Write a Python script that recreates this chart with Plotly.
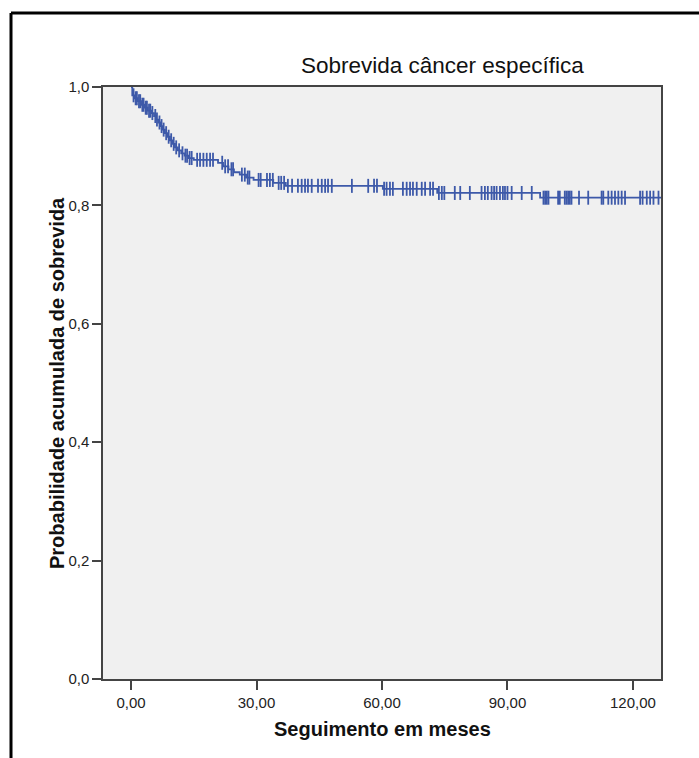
import numpy as np
import plotly.graph_objects as go

# Kaplan-Meier step data (event times in months, survival after event)
event_times = [0.3, 0.9, 1.6, 2.4, 3.2, 4.0, 4.8, 5.5, 6.0, 6.5, 7.0, 7.5, 8.1, 8.7,
               9.3, 9.9, 10.5, 11.2, 12.0, 12.8, 13.7, 15.0, 20.8, 22.0, 23.3, 24.6,
               26.0, 27.5, 29.3, 34.0, 37.0, 60.2, 73.2, 97.8]
survival = [0.986, 0.981, 0.976, 0.970, 0.965, 0.960, 0.956, 0.951, 0.945, 0.940,
            0.934, 0.928, 0.922, 0.916, 0.910, 0.904, 0.898, 0.893, 0.888, 0.884,
            0.880, 0.877, 0.872, 0.866, 0.861, 0.856, 0.852, 0.847, 0.843, 0.838,
            0.833, 0.828, 0.821, 0.813]
followup_end = 130.0

# censored observations (months)
censor_times = [0.6, 1.1, 1.4, 1.9, 2.2, 2.7, 3.0, 3.5, 3.8, 4.3, 4.6, 5.1, 5.8, 6.2,
                6.8, 7.3, 7.8, 8.4, 9.0, 9.6, 10.2, 10.8, 11.5, 12.3, 13.0, 13.4,
                14.0, 14.5, 15.8, 16.5, 17.3, 18.1, 18.9, 19.6, 21.8, 22.5, 23.2,
                24.0, 24.4, 26.5, 27.2, 27.9, 28.3, 30.5, 31.0, 32.5, 33.2, 33.9,
                35.3, 35.9, 36.6, 37.5, 38.5, 39.9, 40.8, 41.6, 42.3, 43.2, 44.7,
                45.6, 46.4, 47.1, 48.0, 52.8, 56.7, 58.1, 58.8, 60.5, 61.1, 61.9,
                62.6, 65.0, 65.9, 66.7, 67.4, 68.3, 69.5, 70.3, 71.5, 72.2, 73.6,
                74.3, 74.9, 77.4, 78.7, 81.0, 83.8, 84.6, 85.3, 86.2, 86.8, 87.4,
                88.2, 88.9, 89.4, 90.0, 91.0, 93.4, 95.8, 98.6, 99.0, 99.4, 99.8,
                102.1, 102.5, 103.7, 104.1, 104.5, 104.9, 105.3, 107.1, 109.3,
                112.5, 112.9, 114.1, 114.9, 115.7, 116.5, 117.3, 118.1, 121.7,
                122.3, 123.3, 124.1, 124.9, 126.1]

x_ticks = [0, 30, 60, 90, 120]
x_ticklabels = ["0,00", "30,00", "60,00", "90,00", "120,00"]
y_ticks = [0.0, 0.2, 0.4, 0.6, 0.8, 1.0]
y_ticklabels = ["0,0", "0,2", "0,4", "0,6", "0,8", "1,0"]

title = "Sobrevida câncer específica"
x_title = "Seguimento em meses"
y_title = "Probabilidade acumulada de sobrevida"

BLUE = "#3D59A9"
FONT = "Liberation Sans, Arial, sans-serif"

line_x = [0.0] + event_times + [followup_end]
line_y = [1.0] + survival + [survival[-1]]

# survival level at each censoring time
et = np.array(event_times)
sv = np.array(survival)
idx = np.searchsorted(et, np.array(censor_times), side="right") - 1
censor_y = np.where(idx >= 0, sv[np.clip(idx, 0, None)], 1.0)

fig = go.Figure()
fig.add_trace(go.Scatter(x=line_x, y=line_y, mode="lines", line_shape="hv",
                         line=dict(color=BLUE, width=1.8), hoverinfo="skip",
                         showlegend=False))
fig.add_trace(go.Scatter(x=censor_times, y=censor_y, mode="markers",
                         marker=dict(symbol="line-ns", size=10,
                                     line=dict(color=BLUE, width=1.8)),
                         showlegend=False))

L, R, T, B = 103, 661, 87, 679
W, H = 699, 758
pw, ph = R - L, B - T


def px(xp):
    return (xp - L) / pw


def py(yp):
    return (B - yp) / ph


axis_common = dict(showline=True, linecolor="#444444", linewidth=1.5, mirror=True,
                   showgrid=False, zeroline=False, ticks="outside",
                   tickcolor="#444444", tickwidth=1.5,
                   tickfont=dict(family=FONT, size=15, color="#222222"))

fig.update_xaxes(range=[-6.7, 126.7], tickvals=x_ticks, ticktext=x_ticklabels,
                 ticklen=9, **axis_common)
fig.update_yaxes(range=[0, 1], tickvals=y_ticks, ticktext=y_ticklabels,
                 ticklen=9, **axis_common)

fig.update_layout(
    width=W, height=H,
    margin=dict(l=L, r=W - R, t=T, b=H - B),
    paper_bgcolor="white", plot_bgcolor="#F0F0F0",
    font=dict(family=FONT),
    annotations=[
        dict(text=title, x=px(442), y=py(65), xref="paper", yref="paper",
             showarrow=False, xanchor="center", yanchor="middle",
             font=dict(family=FONT, size=22.5, color="#111111")),
        dict(text="<b>" + x_title + "</b>", x=px(382), y=py(729), xref="paper",
             yref="paper", showarrow=False, xanchor="center", yanchor="middle",
             font=dict(family=FONT, size=20, color="#111111")),
        dict(text="<b>" + y_title + "</b>", x=px(57), y=py(383), xref="paper",
             yref="paper", showarrow=False, xanchor="center", yanchor="middle",
             textangle=-90, font=dict(family=FONT, size=20, color="#111111")),
    ],
    shapes=[
        dict(type="line", xref="paper", yref="paper", x0=px(11), y0=py(13),
             x1=px(760), y1=py(13), line=dict(color="black", width=3)),
        dict(type="line", xref="paper", yref="paper", x0=px(11), y0=py(13),
             x1=px(11), y1=py(800), line=dict(color="black", width=3)),
    ],
)

fig.write_html("out.html")
